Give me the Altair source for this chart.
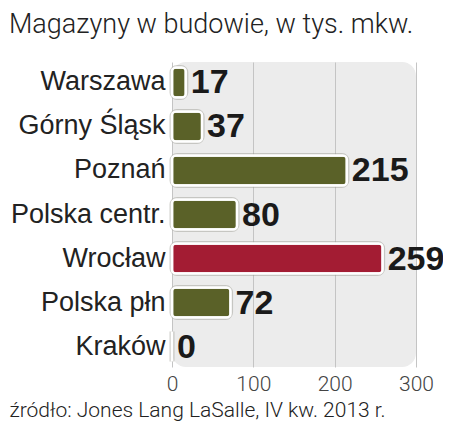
import altair as alt
import pandas as pd

regions = ["Warszawa", "Górny Śląsk", "Poznań", "Polska centr.", "Wrocław", "Polska płn", "Kraków"]
values = [17, 37, 215, 80, 259, 72, 0]
highlight = [False, False, False, False, True, False, False]
x_ticks = [0, 100, 200, 300]

title_text = "Magazyny w budowie, w tys. mkw."
source_text = "źródło: Jones Lang LaSalle, IV kw. 2013 r."

df = pd.DataFrame({"region": regions, "value": values, "hl": highlight})

y_enc = alt.Y(
    "region:N",
    sort=regions,
    scale=alt.Scale(paddingInner=0.32, paddingOuter=0.125),
    axis=alt.Axis(
        title=None, ticks=False, domain=False, labelPadding=7,
        labelFont="Liberation Sans", labelFontSize=27, labelColor="#222222",
        labelLimit=200,
    ),
)
x_enc = alt.X(
    "value:Q",
    scale=alt.Scale(domain=[0, 300], nice=False),
    axis=alt.Axis(
        values=x_ticks, title=source_text, ticks=False, domain=False,
        labelFont="Roboto", labelFontWeight=300, labelFontSize=21, labelColor="#444444",
        labelPadding=6, labelFlush=False, grid=True, gridColor="#c4c4c4", gridWidth=1,
        titleFont="Roboto", titleFontWeight=300, titleFontSize=21, titleColor="#222222",
        titleAnchor="start", titleAlign="left", titleX=-163, titleY=32,
    ),
)

base = alt.Chart(df).encode(y=y_enc)

shadow = base.mark_bar(
    cornerRadius=5, stroke="#9a9a90", strokeWidth=5, strokeOpacity=0.45, fill="#9a9a90",
).encode(x=x_enc)

bars = base.mark_bar(cornerRadius=4, stroke="white", strokeWidth=2.5).encode(
    x=alt.X("value:Q"),
    color=alt.condition(
        alt.datum.hl, alt.value("#a31c33"), alt.value("#5a6128")
    ),
)

labels = base.mark_text(
    align="left", baseline="middle", dx=5, dy=1,
    font="Liberation Sans", fontWeight="bold", fontSize=34, color="#1a1a1a",
).encode(x=alt.X("value:Q"), text=alt.Text("value:Q"))

chart = (
    alt.layer(shadow, bars, labels)
    .properties(
        width=244, height=305,
        autosize=alt.AutoSizeParams(type="none"),
        padding={"left": 164, "top": 54, "right": 27, "bottom": 60},
        title=alt.TitleParams(
            title_text, anchor="start", frame="group", dx=-163, offset=23,
            font="Roboto", fontWeight=300, fontSize=27, color="#222222",
        ),
    )
    .configure_view(fill="#ececec", stroke=None, cornerRadius=14)
)

chart.save("out.html", embed_options={"renderer": "svg", "actions": False})
